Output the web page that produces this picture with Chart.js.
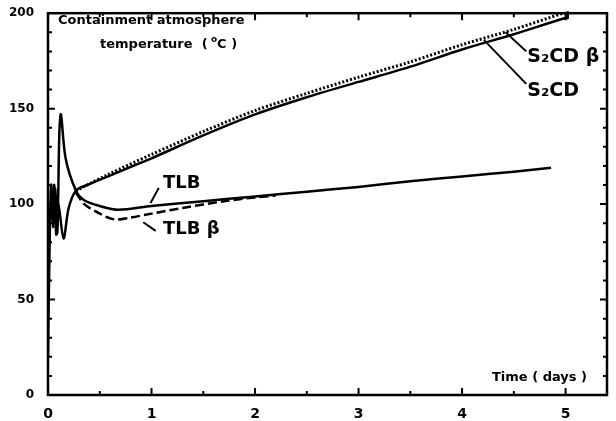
<!DOCTYPE html>
<html>
<head>
<meta charset="utf-8">
<script src="https://cdn.jsdelivr.net/npm/chart.js@4/dist/chart.umd.min.js"></script>
<style>
  html, body { margin: 0; padding: 0; background: #fff; }
  #wrap { width: 616px; height: 421px; }
</style>
</head>
<body>
<div id="wrap"><canvas id="chart" width="616" height="421"></canvas></div>
<script>
// tick labels
const xTicks = [0, 1, 2, 3, 4, 5];
const yTicks = [0, 50, 100, 150, 200];

// S2CD (solid, upper)
const s2cdTime = [0.04, 0.06, 0.08, 0.1, 0.15, 0.2, 0.27, 0.4, 0.58, 0.8, 1, 1.5, 2, 2.5, 3, 3.5, 4, 4.5, 5, 5.02];
const s2cdTemp = [95, 110, 84, 100, 82, 98, 107, 110.5, 114.5, 119.5, 124, 136, 147, 156, 164, 172, 181, 189, 197.5, 197];

// S2CD beta (dotted, upper)
const s2cdBTime = [0.27, 0.58, 1, 1.5, 2, 2.5, 3, 3.5, 4, 4.5, 5, 5.02];
const s2cdBTemp = [107, 115.5, 126, 138, 149, 158, 166.5, 174.5, 183.5, 191.5, 200.5, 201];

// TLB (solid, lower)
const tlbTime = [0, 0.01, 0.03, 0.05, 0.07, 0.09, 0.11, 0.125, 0.17, 0.27, 0.35, 0.5, 0.68, 1, 1.5, 2, 2.5, 3, 3.5, 4, 4.5, 4.86];
const tlbTemp = [20, 60, 110, 88, 108, 85, 138, 147, 124, 107, 102, 99, 97, 99, 101.5, 104, 106.5, 109, 112, 114.5, 117, 119];

// TLB beta (dashed, lower)
const tlbBTime = [0.27, 0.35, 0.5, 0.64, 0.8, 1, 1.3, 1.7, 2, 2.2];
const tlbBTemp = [106, 100, 95, 92, 93, 95, 98, 101.5, 103.5, 104.5];

const pts = (xs, ys) => xs.map((x, i) => ({x: x, y: ys[i]}));

const FONT = '"DejaVu Sans", sans-serif';

// frame, inward ticks and curve labels
const paperPlugin = {
    id: 'paper',
    afterDatasetsDraw(chart) {
        const {ctx, chartArea: a, scales: {x, y}} = chart;
        ctx.save();
        ctx.strokeStyle = '#000';
        ctx.lineWidth = 2.5;
        ctx.strokeRect(a.left, a.top, a.right - a.left, a.bottom - a.top);

        ctx.lineWidth = 2;
        for (let v = 0; v <= 5.01; v += 0.5) {
            const px = x.getPixelForValue(v);
            const len = Number.isInteger(v) ? 7 : 4;
            ctx.beginPath();
            ctx.moveTo(px, a.bottom); ctx.lineTo(px, a.bottom - len);
            ctx.moveTo(px, a.top); ctx.lineTo(px, a.top + len);
            ctx.stroke();
        }
        for (let v = 10; v < 200; v += 10) {
            const py = y.getPixelForValue(v);
            const len = v % 50 === 0 ? 7 : 4;
            ctx.beginPath();
            ctx.moveTo(a.left, py); ctx.lineTo(a.left + len, py);
            ctx.moveTo(a.right, py); ctx.lineTo(a.right - len, py);
            ctx.stroke();
        }

        // join at the end of the S2CD pair
        ctx.lineWidth = 2.5;
        ctx.beginPath();
        ctx.moveTo(x.getPixelForValue(5.02), y.getPixelForValue(197));
        ctx.lineTo(x.getPixelForValue(5.02), y.getPixelForValue(201));
        ctx.stroke();

        // leader lines
        const lead = (x1, y1, x2, y2) => {
            ctx.beginPath();
            ctx.moveTo(x.getPixelForValue(x1), y.getPixelForValue(y1));
            ctx.lineTo(x.getPixelForValue(x2), y.getPixelForValue(y2));
            ctx.stroke();
        };
        ctx.lineWidth = 2;
        lead(1.07, 108.5, 0.99, 100.5);
        lead(0.92, 90.5, 1.04, 86);
        lead(4.42, 190, 4.62, 180);
        lead(4.21, 186, 4.62, 163);

        ctx.fillStyle = '#000';
        ctx.textBaseline = 'middle';
        ctx.textAlign = 'left';
        const txt = (s, tx, ty, size) => {
            ctx.font = 'bold ' + size + 'px ' + FONT;
            ctx.fillText(s, x.getPixelForValue(tx), y.getPixelForValue(ty));
        };
        txt('TLB', 1.11, 111, 18);
        txt('TLB β', 1.11, 87, 18);
        txt('S₂CD β', 4.63, 177, 19);
        txt('S₂CD', 4.63, 159, 19);

        ctx.font = 'bold 13px ' + FONT;
        ctx.fillText('Containment atmosphere', 58, 21);
        const head = 'temperature  ( ';
        ctx.fillText(head, 100, 45);
        const hx = 100 + ctx.measureText(head).width;
        ctx.font = 'bold 9px ' + FONT;
        ctx.fillText('o', hx - 1, 40);
        ctx.font = 'bold 13px ' + FONT;
        ctx.fillText('C )', hx + 5, 45);
        ctx.fillText('Time ( days )', 492, 378);
        ctx.restore();
    }
};

new Chart(document.getElementById('chart'), {
    type: 'scatter',
    data: {
        datasets: [
            {label: 'S2CD', data: pts(s2cdTime, s2cdTemp), borderDash: []},
            {label: 'S2CD β', data: pts(s2cdBTime, s2cdBTemp), borderDash: [2, 2], borderWidth: 3},
            {label: 'TLB', data: pts(tlbTime, tlbTemp), borderDash: []},
            {label: 'TLB β', data: pts(tlbBTime, tlbBTemp), borderDash: [9, 4]}
        ].map(d => Object.assign({
            showLine: true,
            borderColor: '#000',
            borderWidth: 2.5,
            pointRadius: 0,
            tension: 0.3,
            fill: false
        }, d))
    },
    options: {
        responsive: false,
        animation: false,
        layout: {padding: {top: 9, right: 9, left: 0, bottom: 0}},
        plugins: {legend: {display: false}, tooltip: {enabled: false}},
        scales: {
            x: {
                type: 'linear',
                min: 0,
                max: 5.4,
                grid: {display: false},
                border: {display: false},
                afterBuildTicks: s => { s.ticks = xTicks.map(v => ({value: v})); },
                afterFit: s => { s.height = 26; },
                ticks: {color: '#000', font: {family: FONT, weight: 'bold', size: 14}, padding: 3, maxRotation: 0}
            },
            y: {
                type: 'linear',
                min: 0,
                max: 200,
                grid: {display: false},
                border: {display: false},
                afterBuildTicks: s => { s.ticks = yTicks.map(v => ({value: v})); },
                afterFit: s => { s.width = 48; },
                ticks: {color: '#000', font: {family: FONT, weight: 'bold', size: 12}, padding: 6}
            }
        }
    },
    plugins: [paperPlugin]
});
</script>
</body>
</html>
